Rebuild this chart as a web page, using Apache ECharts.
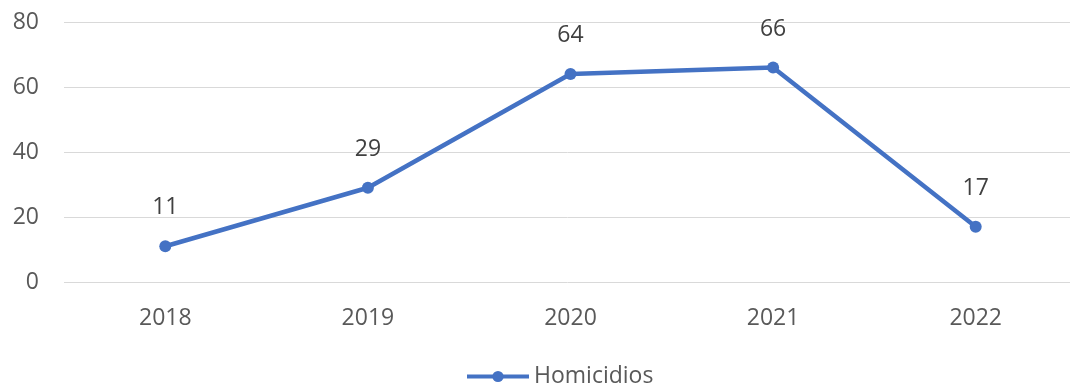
<!DOCTYPE html>
<html><head><meta charset="utf-8">
<script src="https://cdn.jsdelivr.net/npm/echarts@6/dist/echarts.min.js"></script>
<style>html,body{margin:0;padding:0;background:#fff}#c{width:1070px;height:391px}</style>
</head><body><div id="c"></div>
<script>
var categories = ['2018','2019','2020','2021','2022'];
var homicidios = [11, 29, 64, 66, 17];
var yTicks = [0, 20, 40, 60, 80];
var seriesName = 'Homicidios';

var chart = echarts.init(document.getElementById('c'));
chart.setOption({
  animation: false,
  textStyle: {fontFamily: 'Open Sans'},
  grid: {left: 64, right: -7, top: 22, bottom: 109, outerBoundsMode: 'none', containLabel: false},
  legend: {
    bottom: -2, left: 460,
    itemWidth: 62, itemHeight: 14, itemGap: 4,
    lineStyle: {width: 4},
    textStyle: {fontSize: 23, color: '#595959', fontFamily: 'Open Sans'},
    data: [seriesName]
  },
  xAxis: {
    type: 'category', data: categories,
    axisLine: {show: false}, axisTick: {show: false},
    axisLabel: {fontSize: 23, color: '#595959', margin: 25}
  },
  yAxis: {
    type: 'value', min: yTicks[0], max: yTicks[yTicks.length-1], interval: 20,
    axisLine: {show: false}, axisTick: {show: false},
    axisLabel: {fontSize: 23, color: '#595959', margin: 25},
    splitLine: {lineStyle: {color: '#d9d9d9', width: 1}}
  },
  series: [{
    name: seriesName, type: 'line', data: homicidios,
    symbol: 'circle', symbolSize: 12,
    lineStyle: {color: '#4472C4', width: 4.5},
    itemStyle: {color: '#4472C4'},
    label: {show: true, position: 'top', distance: 21, fontSize: 23, color: '#404040'}
  }]
});
</script></body></html>
